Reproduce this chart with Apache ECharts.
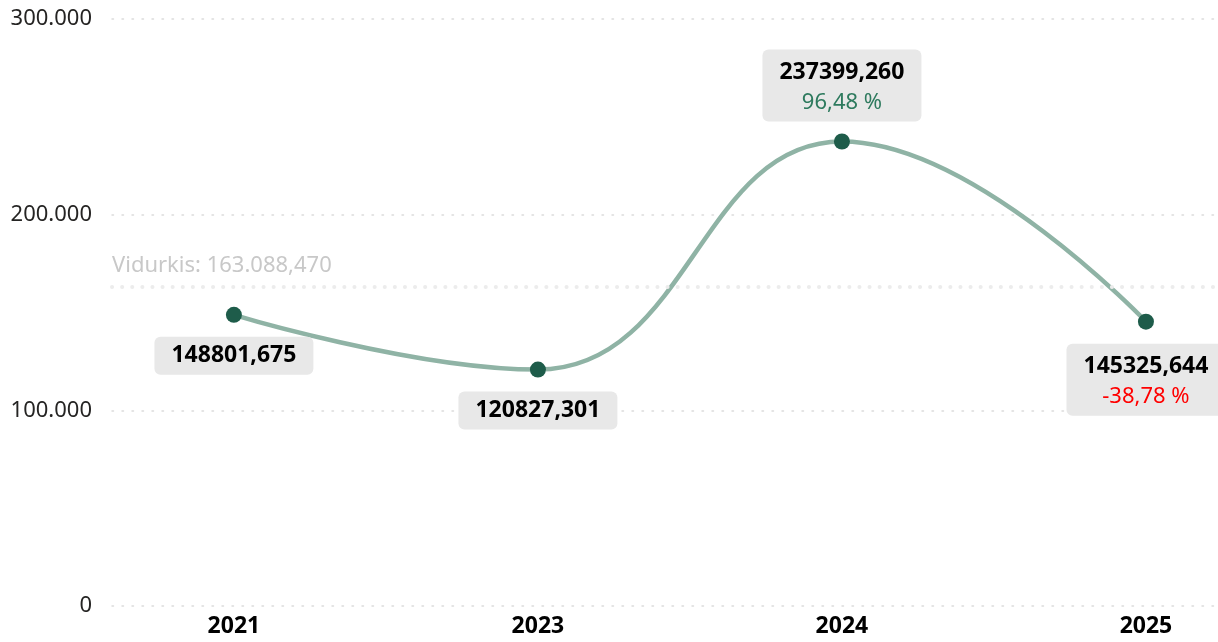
<!DOCTYPE html>
<html>
<head>
<meta charset="utf-8">
<script src="https://cdn.jsdelivr.net/npm/echarts@6/dist/echarts.min.js"></script>
<style>
html,body{margin:0;padding:0;background:#fff;}
#chart{width:1218px;height:642px;}
</style>
</head>
<body>
<div id="chart"></div>
<script>
const categories = ['2021', '2023', '2024', '2025'];
const values = [148801.675, 120827.301, 237399.260, 145325.644];
const changes = [null, null, 96.48, -38.78];
const yTicks = [0, 100000, 200000, 300000];
const avgLabelPrefix = 'Vidurkis: ';

const FONT = '"Segoe UI", "Noto Sans", "Open Sans", sans-serif';

function fmtThousands(v, dec) {
  const s = v.toFixed(dec);
  const parts = s.split('.');
  const intPart = parts[0].replace(/\B(?=(\d{3})+(?!\d))/g, '.');
  return parts[1] ? intPart + ',' + parts[1] : intPart;
}
function fmtValue(v) { return v.toFixed(3).replace('.', ','); }
function fmtPct(p) { return p.toFixed(2).replace('.', ',') + ' %'; }

const labelPos = ['bottom', 'bottom', 'top', 'bottom'];
const data = values.map((v, i) => ({
  value: [i, v],
  label: {
    position: labelPos[i],
    distance: labelPos[i] === 'top' ? 12 : 14,
    padding: changes[i] === null ? [4, 17, 4, 17] : [8, 17, 4, 17]
  }
}));

const chart = echarts.init(document.getElementById('chart'));
chart.setOption({
  animation: false,
  grid: { left: 112, right: 0, top: 19, bottom: 36, containLabel: false },
  xAxis: {
    type: 'value',
    min: -0.401,
    max: 3.237,
    axisLine: { show: false },
    axisTick: { show: false },
    splitLine: { show: false },
    axisLabel: {
      customValues: categories.map((c, i) => i),
      formatter: v => categories[Math.round(v)],
      fontFamily: FONT,
      fontSize: 23,
      fontWeight: 'bold',
      color: '#000',
      margin: 9
    }
  },
  yAxis: {
    type: 'value',
    min: yTicks[0],
    max: yTicks[yTicks.length - 1],
    interval: yTicks[1] - yTicks[0],
    axisLine: { show: false },
    axisTick: { show: false },
    axisLabel: {
      formatter: v => fmtThousands(v, 0),
      fontFamily: FONT,
      fontSize: 22,
      color: '#252423',
      margin: 20
    },
    splitLine: {
      lineStyle: { color: '#dcdcdc', width: 1.5, type: [1.5, 8.5], cap: 'round' }
    }
  },
  series: [{
    type: 'line',
    smooth: 0.45,
    data: data,
    symbol: 'circle',
    symbolSize: 16,
    itemStyle: { color: '#1e5c4a' },
    lineStyle: { color: '#8fb3a5', width: 4.5 },
    label: {
      show: true,
      formatter: p => {
        const i = p.dataIndex;
        let s = '{v|' + fmtValue(values[i]) + '}';
        if (changes[i] !== null) {
          s += '\n{' + (changes[i] >= 0 ? 'up' : 'down') + '|' + fmtPct(changes[i]) + '}';
        }
        return s;
      },
      backgroundColor: '#e8e8e8',
      borderRadius: 6,
      align: 'center',
      rich: {
        v: { fontFamily: FONT, fontSize: 23, fontWeight: 'bold', color: '#000', lineHeight: 30, align: 'center' },
        up: { fontFamily: FONT, fontSize: 22, color: '#2e7a5e', lineHeight: 30, align: 'center' },
        down: { fontFamily: FONT, fontSize: 22, color: '#ff0000', lineHeight: 30, align: 'center' }
      }
    },
    markLine: {
      silent: true,
      symbol: 'none',
      data: [{ type: 'average' }],
      lineStyle: { color: '#ececec', width: 4, type: [0.1, 10], cap: 'round' },
      label: {
        position: 'insideStartTop',
        formatter: p => avgLabelPrefix + fmtThousands(p.value, 3),
        fontFamily: FONT,
        fontSize: 22,
        color: '#c8c8c8',
        distance: [0, 10]
      }
    }
  }]
});
</script>
</body>
</html>
